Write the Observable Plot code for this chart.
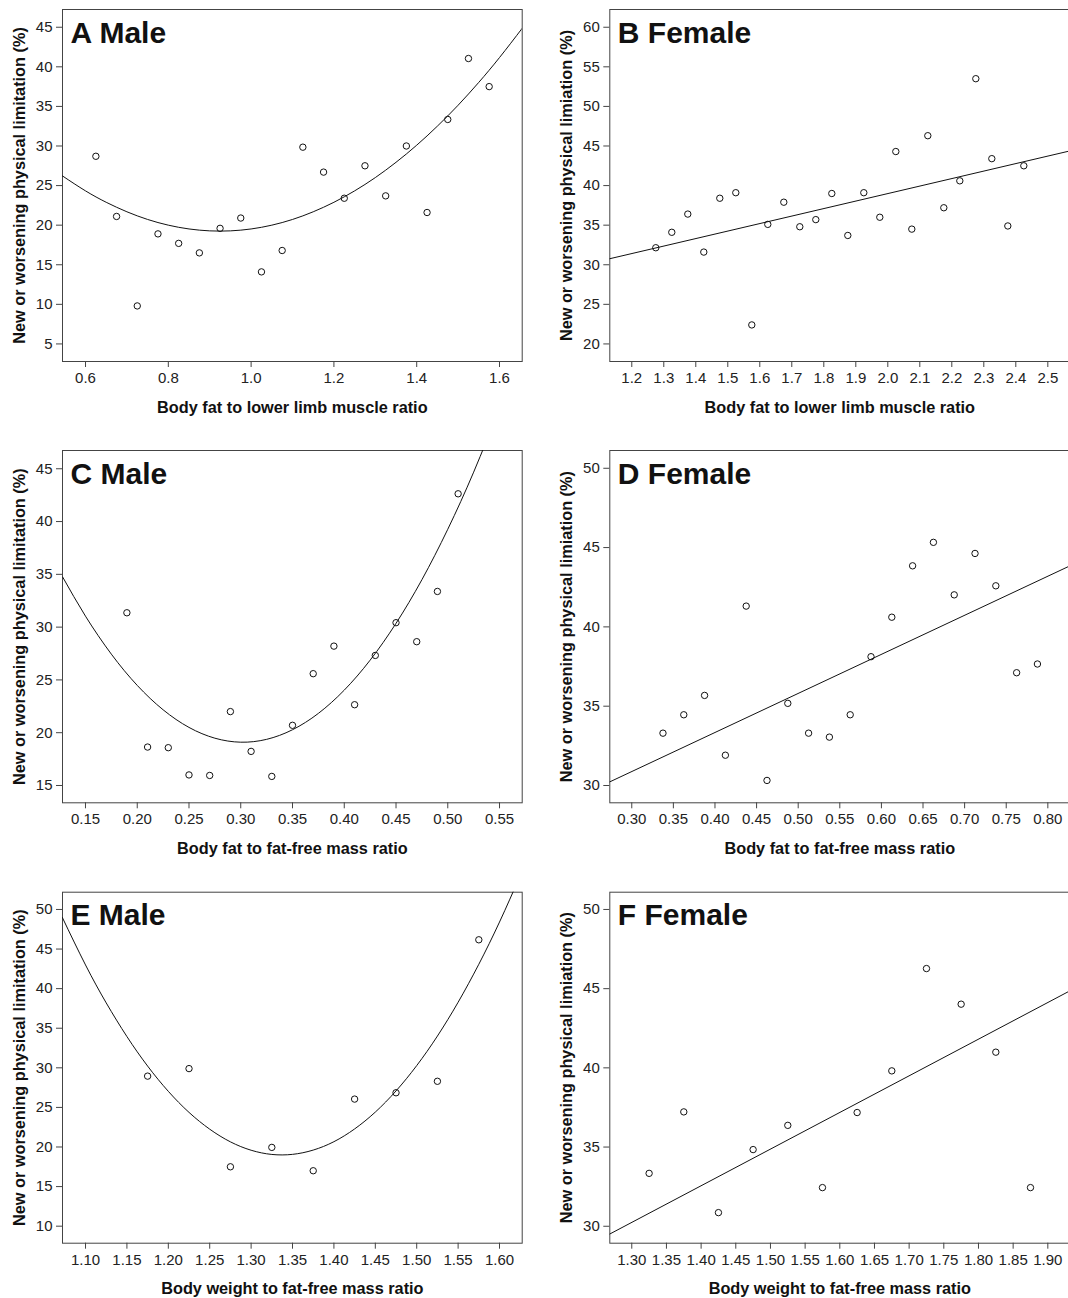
<!DOCTYPE html>
<html><head><meta charset="utf-8">
<script src="https://cdn.jsdelivr.net/npm/d3@7"></script>
<script src="https://cdn.jsdelivr.net/npm/@observablehq/plot@0.6"></script>
<style>
html,body{margin:0;padding:0;background:#fff;overflow:hidden;}
#wrap{position:relative;width:1068px;height:1298px;overflow:hidden;background:#fff;}
#wrap > div{position:absolute;}
#wrap svg{max-width:none !important;}
</style></head><body><div id="wrap"></div>
<script>
// ---------- Panel A: Male, body fat to lower limb muscle ratio ----------
const aX = [0.625,0.675,0.725,0.775,0.825,0.875,0.925,0.975,1.025,1.075,1.125,1.175,1.225,1.275,1.325,1.375,1.425,1.475,1.525,1.575];
const aY = [28.7,21.1,9.8,18.9,17.7,16.5,19.6,20.9,14.1,16.8,29.85,26.7,23.4,27.5,23.7,30.0,21.6,33.35,41.05,37.5];
const aFitX = [0.544,0.6,0.65,0.7,0.75,0.8,0.85,0.9,0.95,1.0,1.05,1.1,1.15,1.2,1.25,1.3,1.35,1.4,1.45,1.5,1.55,1.6,1.655];
const aFitY = [26.23,24.33,22.89,21.69,20.72,20.0,19.52,19.28,19.28,19.52,20.0,20.72,21.69,22.89,24.33,26.01,27.94,30.10,32.51,35.15,38.04,41.17,44.88];
const aXTicks = [0.6,0.8,1.0,1.2,1.4,1.6];
const aYTicks = [5,10,15,20,25,30,35,40,45];

// ---------- Panel B: Female, body fat to lower limb muscle ratio ----------
const bX = [1.275,1.325,1.375,1.425,1.475,1.525,1.575,1.625,1.675,1.725,1.775,1.825,1.875,1.925,1.975,2.025,2.075,2.125,2.175,2.225,2.275,2.325,2.375,2.425];
const bY = [32.15,34.1,36.4,31.6,38.4,39.1,22.4,35.1,37.9,34.8,35.7,39.0,33.7,39.1,36.0,44.3,34.5,46.3,37.2,40.6,53.5,43.4,34.9,42.5];
const bFitX = [1.131,2.565];
const bFitY = [30.76,44.34];
const bXTicks = [1.2,1.3,1.4,1.5,1.6,1.7,1.8,1.9,2.0,2.1,2.2,2.3,2.4,2.5];
const bYTicks = [20,25,30,35,40,45,50,55,60];

// ---------- Panel C: Male, body fat to fat-free mass ratio ----------
const cX = [0.19,0.21,0.23,0.25,0.27,0.29,0.31,0.33,0.35,0.37,0.39,0.41,0.43,0.45,0.47,0.49,0.51];
const cY = [31.36,18.64,18.58,16.0,15.95,22.0,18.23,15.86,20.7,25.59,28.2,22.65,27.32,30.42,28.62,33.38,42.63];
const cFitX = [0.128,0.15,0.175,0.2,0.225,0.25,0.275,0.3,0.325,0.35,0.375,0.4,0.425,0.45,0.475,0.5,0.525,0.55];
const cFitY = [34.74,31.04,27.44,24.48,22.17,20.50,19.48,19.10,19.37,20.28,21.83,24.03,26.87,30.36,34.49,39.27,44.68,50.75];
const cXTicks = [0.15,0.20,0.25,0.30,0.35,0.40,0.45,0.50,0.55];
const cYTicks = [15,20,25,30,35,40,45];

// ---------- Panel D: Female, body fat to fat-free mass ratio ----------
const dX = [0.3375,0.3625,0.3875,0.4125,0.4375,0.4625,0.4875,0.5125,0.5375,0.5625,0.5875,0.6125,0.6375,0.6625,0.6875,0.7125,0.7375,0.7625,0.7875];
const dY = [33.3,34.46,35.68,31.91,41.31,30.32,35.18,33.3,33.05,34.46,38.12,40.61,43.85,45.33,42.02,44.63,42.59,37.11,37.66];
const dFitX = [0.2736,0.825];
const dFitY = [30.23,43.81];
const dXTicks = [0.30,0.35,0.40,0.45,0.50,0.55,0.60,0.65,0.70,0.75,0.80];
const dYTicks = [30,35,40,45,50];

// ---------- Panel E: Male, body weight to fat-free mass ratio ----------
const eX = [1.175,1.225,1.275,1.325,1.375,1.425,1.475,1.525,1.575];
const eY = [28.95,29.9,17.5,19.95,17.0,26.05,26.85,28.3,46.17];
const eFitX = [1.072,1.1,1.125,1.15,1.175,1.2,1.225,1.25,1.275,1.3,1.325,1.35,1.375,1.4,1.425,1.45,1.475,1.5,1.525,1.55,1.575,1.6,1.625];
const eFitY = [48.99,42.99,38.20,33.95,30.22,27.03,24.37,22.25,20.65,19.59,19.06,19.07,19.61,20.67,22.28,24.41,27.08,30.28,34.01,38.28,43.08,48.41,54.27];
const eXTicks = [1.10,1.15,1.20,1.25,1.30,1.35,1.40,1.45,1.50,1.55,1.60];
const eYTicks = [10,15,20,25,30,35,40,45,50];

// ---------- Panel F: Female, body weight to fat-free mass ratio ----------
const fX = [1.325,1.375,1.425,1.475,1.525,1.575,1.625,1.675,1.725,1.775,1.825,1.875];
const fY = [33.34,37.22,30.86,34.84,36.37,32.44,37.18,39.81,46.27,44.02,40.99,32.44];
const fFitX = [1.2683,1.930];
const fFitY = [29.51,44.82];
const fXTicks = [1.30,1.35,1.40,1.45,1.50,1.55,1.60,1.65,1.70,1.75,1.80,1.85,1.90];
const fYTicks = [30,35,40,45,50];

const titles = ["A Male","B Female","C Male","D Female","E Male","F Female"];
const xLabels = ["Body fat to lower limb muscle ratio","Body fat to lower limb muscle ratio",
  "Body fat to fat-free mass ratio","Body fat to fat-free mass ratio",
  "Body weight to fat-free mass ratio","Body weight to fat-free mass ratio"];
const yLabelMale = "New or worsening physical limitation (%)";
const yLabelFemale = "New or worsening physical limiation (%)";

const FONT = "'Liberation Sans', Arial, Helvetica, sans-serif";

const panels = [
  {t:0, x:aX, y:aY, fx:aFitX, fy:aFitY, xt:aXTicks, yt:aYTicks, fmt:".1f", xd:[0.5444,1.6548], yd:[2.78,47.24], yl:yLabelMale, curve:"natural",
   left:0, top:0, w:530, h:425, mL:62, mR:8.3, mT:9, mB:64},
  {t:1, x:bX, y:bY, fx:bFitX, fy:bFitY, xt:bXTicks, yt:bYTicks, fmt:".1f", xd:[1.1313,2.5687], yd:[17.78,62.24], yl:yLabelFemale, curve:"linear",
   left:530, top:0, w:545, h:425, mL:79.3, mR:5.7, mT:9, mB:64},
  {t:2, x:cX, y:cY, fx:cFitX, fy:cFitY, xt:cXTicks, yt:cYTicks, fmt:".2f", xd:[0.1278,0.5719], yd:[13.36,46.73], yl:yLabelMale, curve:"natural",
   left:0, top:440, w:530, h:425, mL:62, mR:8.3, mT:10, mB:62.7},
  {t:3, x:dX, y:dY, fx:dFitX, fy:dFitY, xt:dXTicks, yt:dYTicks, fmt:".2f", xd:[0.2736,0.8264], yd:[28.91,51.12], yl:yLabelFemale, curve:"linear",
   left:530, top:440, w:545, h:425, mL:79.3, mR:5.7, mT:10, mB:62.7},
  {t:4, x:eX, y:eY, fx:eFitX, fy:eFitY, xt:eXTicks, yt:eYTicks, fmt:".2f", xd:[1.0722,1.6274], yd:[7.85,52.18], yl:yLabelMale, curve:"natural",
   left:0, top:880, w:530, h:418, mL:62, mR:8.3, mT:11.7, mB:55.3},
  {t:5, x:fX, y:fY, fx:fFitX, fy:fFitY, xt:fXTicks, yt:fYTicks, fmt:".2f", xd:[1.2683,1.9317], yd:[28.93,51.09], yl:yLabelFemale, curve:"linear",
   left:530, top:880, w:545, h:418, mL:79.3, mR:5.7, mT:11.7, mB:55.3}
];

const wrap = document.getElementById("wrap");
for (const p of panels) {
  const pts = p.x.map((x, i) => ({x, y: p.y[i]}));
  const fit = p.fx.map((x, i) => ({x, y: p.fy[i]}));
  const chart = Plot.plot({
    width: p.w, height: p.h,
    marginLeft: p.mL, marginRight: p.mR, marginTop: p.mT, marginBottom: p.mB,
    style: {fontFamily: FONT, fontSize: "15px", background: "white", color: "#222", overflow: "visible", maxWidth: "none"},
    x: {domain: p.xd},
    y: {domain: p.yd},
    marks: [
      Plot.frame({stroke: "#444", strokeWidth: 1}),
      Plot.axisX({ticks: p.xt, tickFormat: d3.format(p.fmt), tickSize: 6, tickPadding: 5, fontSize: 15, label: null, stroke: "#444", fill: "#222"}),
      Plot.axisY({ticks: p.yt, tickFormat: d3.format("d"), tickSize: 6, tickPadding: 4, fontSize: 15, label: null, stroke: "#444", fill: "#222"}),
      Plot.line(fit, {x: "x", y: "y", stroke: "#111", strokeWidth: 1, curve: p.curve, clip: true}),
      Plot.dot(pts, {x: "x", y: "y", r: 3.2, stroke: "#111", strokeWidth: 1, fill: "none"}),
      Plot.text([titles[p.t]], {text: d => d, frameAnchor: "top-left", dx: 8, dy: 33, lineAnchor: "bottom", textAnchor: "start", fontSize: 30, fontWeight: "bold", fill: "#111"}),
      Plot.text([xLabels[p.t]], {text: d => d, frameAnchor: "bottom", dy: 51, lineAnchor: "bottom", textAnchor: "middle", fontSize: 16.3, fontWeight: "bold", fill: "#111"}),
      Plot.text([p.yl], {text: d => d, frameAnchor: "left", dx: -43, rotate: -90, lineAnchor: "middle", textAnchor: "middle", fontSize: 16.3, fontWeight: "bold", fill: "#111"})
    ]
  });
  chart.style.maxWidth = "none";
  const holder = document.createElement("div");
  holder.style.left = p.left + "px";
  holder.style.top = p.top + "px";
  holder.style.width = p.w + "px";
  holder.style.height = p.h + "px";
  holder.appendChild(chart);
  wrap.appendChild(holder);
}
</script>
</body></html>
